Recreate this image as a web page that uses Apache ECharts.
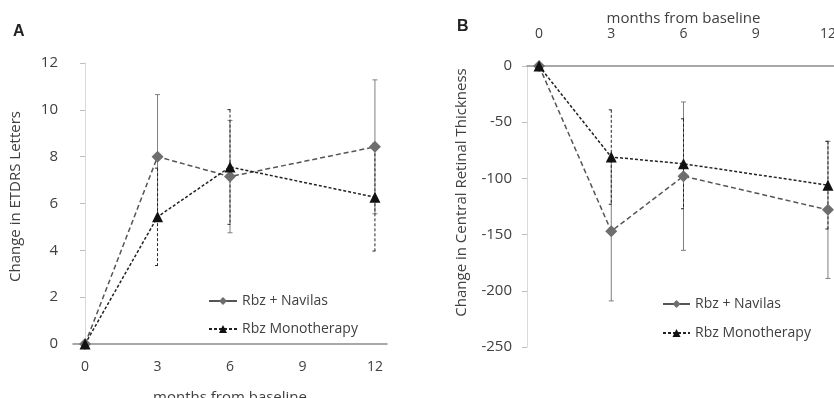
<!DOCTYPE html>
<html>
<head>
<meta charset="utf-8">
<script src="https://cdn.jsdelivr.net/npm/echarts@6/dist/echarts.min.js"></script>
<style>
  html, body { margin: 0; padding: 0; background: #fff; }
  #chart { width: 834px; height: 398px; }
</style>
</head>
<body>
<div id="chart"></div>
<script>
// months at which values were measured (9 has no data)
const months = [0, 3, 6, 12];
const monthTicks = [0, 3, 6, 9, 12];

// Panel A: change in ETDRS letters
const navilasA = [0, 8.0, 7.15, 8.42];
const navilasAErr = [0, 2.65, 2.4, 2.86];
const monoA = [0, 5.43, 7.56, 6.27];
const monoAErr = [0, 2.08, 2.45, 2.3];

// Panel B: change in central retinal thickness
const navilasB = [0, -147, -98, -128];
const navilasBErr = [0, 62, 66, 61];
const monoB = [0, -81, -87, -106];
const monoBErr = [0, 42, 40, 39];

const FONT = 'Open Sans';
const TXT = '#404040';
const NAV = 'Rbz + Navilas';
const MONO = 'Rbz Monotherapy';

const pts = (vals) => months.map((m, i) => [m, vals[i]]);
const errPts = (vals, errs) => months.map((m, i) => [m, vals[i], errs[i]]).filter(d => d[2] > 0);

function errorBars(color, dash) {
  return function (params, api) {
    const x = api.value(0), y = api.value(1), e = api.value(2);
    const top = api.coord([x, y + e]);
    const bot = api.coord([x, y - e]);
    const st = { stroke: color, lineWidth: 1, lineDash: dash };
    return {
      type: 'group',
      children: [
        { type: 'line', shape: { x1: top[0], y1: top[1], x2: bot[0], y2: bot[1] }, style: st },
        { type: 'line', shape: { x1: top[0] - 2.5, y1: top[1], x2: top[0] + 2.5, y2: top[1] }, style: st },
        { type: 'line', shape: { x1: bot[0] - 2.5, y1: bot[1], x2: bot[0] + 2.5, y2: bot[1] }, style: st }
      ]
    };
  };
}

const chart = echarts.init(document.getElementById('chart'));

const option = {
  animation: false,
  textStyle: { fontFamily: FONT, color: TXT },
  title: [
    { text: 'A', left: 8, top: 19, textStyle: { fontSize: 16, fontWeight: 'bold', color: '#222', fontFamily: 'Liberation Sans' } },
    { text: 'B', left: 452, top: 14, textStyle: { fontSize: 16, fontWeight: 'bold', color: '#222', fontFamily: 'Liberation Sans' } }
  ],
  grid: [
    { left: 73, top: 63, width: 314, height: 281, outerBoundsMode: 'none', containLabel: false },
    { left: 527, top: 66, width: 313, height: 281, outerBoundsMode: 'none', containLabel: false }
  ],
  legend: [
    {
      left: 203, top: 289, orient: 'vertical', itemWidth: 28, itemHeight: 10, itemGap: 14,
      textStyle: { fontFamily: FONT, fontSize: 14, color: TXT },
      data: [{ name: NAV, lineStyle: { type: 'solid' } }, { name: MONO }]
    },
    {
      left: 657, top: 292, orient: 'vertical', itemWidth: 27, itemHeight: 10, itemGap: 15,
      textStyle: { fontFamily: FONT, fontSize: 14, color: TXT },
      data: [{ name: NAV, lineStyle: { type: 'solid' } }, { name: MONO }]
    }
  ],
  xAxis: [
    {
      gridIndex: 0, type: 'value', min: -0.5, max: 12.5,
      name: 'months from baseline', nameLocation: 'middle', nameGap: 46, nameMoveOverlap: false,
      nameTextStyle: { fontSize: 15, color: TXT },
      axisLine: { onZero: true, lineStyle: { color: '#8c8c8c', width: 1.5 } },
      axisTick: { show: false },
      splitLine: { show: false },
      axisLabel: { customValues: monthTicks, fontSize: 14, color: TXT, margin: 16, hideOverlap: false }
    },
    {
      gridIndex: 1, type: 'value', min: -0.5, max: 12.5, position: 'top',
      name: 'months from baseline', nameLocation: 'middle', nameGap: 40, nameMoveOverlap: false,
      nameTextStyle: { fontSize: 15, color: TXT },
      axisLine: { onZero: false, lineStyle: { color: '#8c8c8c', width: 1.5 } },
      axisTick: { show: false },
      splitLine: { show: false },
      axisLabel: { customValues: monthTicks, fontSize: 14, color: TXT, margin: 25, hideOverlap: false }
    }
  ],
  yAxis: [
    {
      gridIndex: 0, type: 'value', min: 0, max: 12, interval: 2,
      name: 'Change in ETDRS Letters', nameLocation: 'middle', nameGap: 50, nameRotate: 90, nameMoveOverlap: false,
      nameTextStyle: { fontSize: 15, color: TXT, padding: [0, 0, 0, 14] },
      axisLine: { show: true, lineStyle: { color: '#d9d9d9' } },
      axisTick: { show: true, length: 5, lineStyle: { color: '#bfbfbf' } },
      splitLine: { show: false },
      axisLabel: { fontSize: 15, color: TXT, margin: 15 }
    },
    {
      gridIndex: 1, type: 'value', min: -250, max: 0, interval: 50,
      name: 'Change in Central Retinal Thickness', nameLocation: 'middle', nameGap: 58, nameRotate: 90, nameMoveOverlap: false,
      nameTextStyle: { fontSize: 15, color: TXT, padding: [0, 0, 0, 28] },
      axisLine: { show: true, onZero: false, lineStyle: { color: '#d9d9d9' } },
      axisTick: { show: true, length: 5, lineStyle: { color: '#bfbfbf' } },
      splitLine: { show: false },
      axisLabel: { fontSize: 15, color: TXT, margin: 15 }
    }
  ],
  series: [
    {
      type: 'custom', xAxisIndex: 0, yAxisIndex: 0, silent: true,
      renderItem: errorBars('#7f7f7f', null), data: errPts(navilasA, navilasAErr), z: 1
    },
    {
      type: 'custom', xAxisIndex: 0, yAxisIndex: 0, silent: true,
      renderItem: errorBars('#262626', [3, 2]), data: errPts(monoA, monoAErr), z: 1
    },
    {
      type: 'custom', xAxisIndex: 1, yAxisIndex: 1, silent: true,
      renderItem: errorBars('#7f7f7f', null), data: errPts(navilasB, navilasBErr), z: 1
    },
    {
      type: 'custom', xAxisIndex: 1, yAxisIndex: 1, silent: true,
      renderItem: errorBars('#262626', [3, 2]), data: errPts(monoB, monoBErr), z: 1
    },
    {
      name: NAV, type: 'line', xAxisIndex: 0, yAxisIndex: 0, data: pts(navilasA),
      symbol: 'diamond', symbolSize: 12, z: 3,
      lineStyle: { color: '#555', width: 1.5, type: [5, 3] },
      itemStyle: { color: '#6e6e6e' }
    },
    {
      name: MONO, type: 'line', xAxisIndex: 0, yAxisIndex: 0, data: pts(monoA),
      symbol: 'triangle', symbolSize: 11, z: 3,
      lineStyle: { color: '#222', width: 1.5, type: [3, 2] },
      itemStyle: { color: '#111' }
    },
    {
      name: NAV, type: 'line', xAxisIndex: 1, yAxisIndex: 1, data: pts(navilasB),
      symbol: 'diamond', symbolSize: 12, z: 3,
      lineStyle: { color: '#555', width: 1.5, type: [5, 3] },
      itemStyle: { color: '#6e6e6e' }
    },
    {
      name: MONO, type: 'line', xAxisIndex: 1, yAxisIndex: 1, data: pts(monoB),
      symbol: 'triangle', symbolSize: 11, z: 3,
      lineStyle: { color: '#222', width: 1.5, type: [3, 2] },
      itemStyle: { color: '#111' }
    }
  ]
};

chart.setOption(option);
</script>
</body>
</html>
